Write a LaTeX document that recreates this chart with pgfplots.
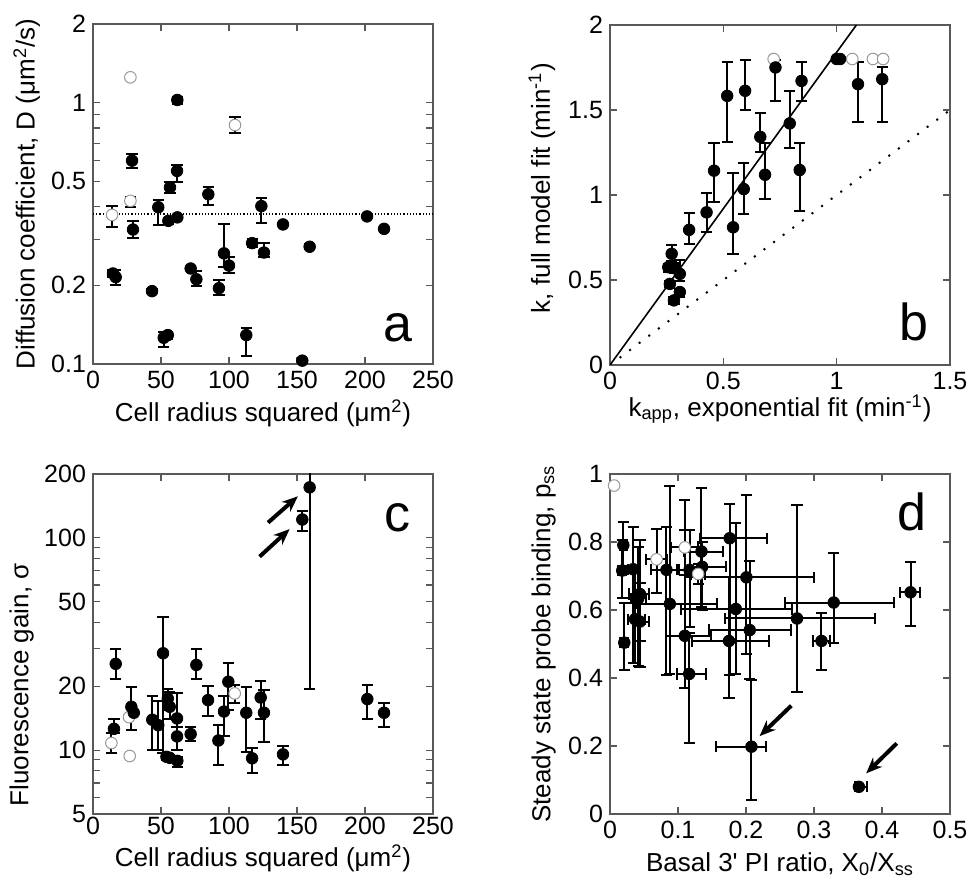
\documentclass[border=0pt]{standalone}
\usepackage{fontspec}
\setmainfont{Liberation Sans}
\usepackage{pgfplots}
\pgfplotsset{compat=1.18}
\usetikzlibrary{arrows.meta}

\pgfplotsset{
  panel/.style={
    scale only axis, width=170pt, height=170pt, anchor=south west,
    axis line style={black!65, line width=0.7pt},
    every tick/.style={black!65, line width=0.6pt},
    major tick length=3.5pt, minor tick length=0pt,
    tick align=inside,
    tick label style={font=\fontsize{12.5}{13}\selectfont},
    label style={font=\fontsize{13}{14}\selectfont},
    /pgf/number format/assume math mode=true,
  },
  ebars/.style={
    error bars/y dir=both, error bars/y explicit,
    error bars/error bar style={line width=1pt, black},
    error bars/error mark options={rotate=90, line width=1pt, mark size=2.8pt, black},
  },
  fpt/.style={only marks, mark=*, mark size=2.9pt,
    mark options={fill=black, draw=black}, ebars},
  opt/.style={only marks, mark=*, mark size=2.9pt,
    mark options={fill=white, draw=black!40, line width=0.5pt}, ebars},
}
\tikzset{
  letter/.style={font=\fontsize{26}{28}\selectfont, anchor=base},
  arr/.style={-{Stealth[length=8pt,width=6.5pt]}, line width=2pt},
}

\begin{document}
\begin{tikzpicture}
\useasboundingbox (0,0) rectangle (486pt,441pt);

% ---------- a ----------
\begin{axis}[panel, at={(46.5pt,259pt)},
  xmin=0, xmax=250, xtick={0,50,100,150,200,250},
  ymode=log, ymin=0.1, ymax=2,
  ytick={0.1,0.2,0.3,0.4,0.5,0.6,0.7,0.8,0.9,1,2},
  yticklabels={0.1,0.2,{},{},0.5,{},{},{},{},1,2},
  xlabel={Cell radius squared (μm\textsuperscript{2})},
  ylabel={Diffusion coefficient, D (μm\textsuperscript{2}/s)},
  xlabel style={at={(axis description cs:0.5,-0.145)}, anchor=center},
  ylabel style={at={(axis description cs:-0.195,0.5)}, anchor=center},
]
\addplot[black, densely dotted, line width=0.6pt] coordinates {(0,0.375) (250,0.375)};
\addplot[opt] table[x=x, y=y, y error plus=ep, y error minus=em] {
x y ep em
14.0 0.372 0.032 0.037
27.5 1.25 0 0
27.5 0.421 0.016 0.023
104.4 0.821 0.063 0.058
};
\addplot[fpt] table[x=x, y=y, y error plus=ep, y error minus=em] {
x y ep em
14.7 0.222 0.006 0.006
16.7 0.215 0.014 0.015
28.7 0.600 0.036 0.039
29.4 0.327 0.024 0.023
43.4 0.190 0.003 0.003
48.0 0.398 0.026 0.058
52.0 0.126 0.007 0.010
55.0 0.129 0.004 0.004
56.6 0.474 0.025 0.024
55.4 0.353 0.009 0.009
62.0 1.024 0.030 0.034
61.8 0.548 0.030 0.049
62.0 0.364 0.006 0.006
71.8 0.232 0.004 0.004
76.0 0.211 0.015 0.012
84.8 0.446 0.031 0.040
92.6 0.195 0.015 0.011
96.3 0.265 0.077 0.029
100.0 0.238 0.018 0.016
112.7 0.129 0.008 0.022
117.0 0.290 0.010 0.009
123.8 0.402 0.028 0.055
125.7 0.267 0.023 0.010
139.7 0.342 0 0
153.9 0.103 0 0
159.3 0.281 0.006 0.006
201.5 0.367 0 0
214.0 0.329 0 0
};
\node[letter] at (rel axis cs:0.897,0.065) {a};
\end{axis}

% ---------- b ----------
\begin{axis}[panel, at={(305pt,258.5pt)},
  xmin=0, xmax=1.5, xtick={0,0.5,1,1.5},
  ymin=0, ymax=2, ytick={0,0.5,1,1.5,2},
  xlabel={k\textsubscript{app}, exponential fit (min\textsuperscript{-1})},
  ylabel={k, full model fit (min\textsuperscript{-1})},
  xlabel style={at={(axis description cs:0.5,-0.13)}, anchor=center},
  ylabel style={at={(axis description cs:-0.2,0.52)}, anchor=center},
]
\addplot[black, line width=0.8pt] coordinates {(0,0) (1.087,2)};
\addplot[black, line width=1pt, dash pattern=on 1pt off 5pt] coordinates {(0,0) (1.5,1.5)};
\addplot[opt] table[x=x, y=y, y error plus=ep, y error minus=em] {
x y ep em
0.722 1.80 0 0
1.069 1.80 0 0
1.160 1.80 0 0
1.205 1.80 0 0
};
\addplot[fpt] table[x=x, y=y, y error plus=ep, y error minus=em] {
x y ep em
1.000 1.800 0 0
1.015 1.800 0 0
0.517 1.583 0.202 0.274
0.596 1.613 0.180 0.114
0.730 1.750 0.043 0.196
0.845 1.671 0.114 0.117
1.094 1.652 0.133 0.225
1.201 1.681 0.069 0.254
0.793 1.421 0.188 0.147
0.663 1.342 0.143 0.092
0.684 1.119 0.186 0.142
0.837 1.147 0.158 0.239
0.459 1.143 0.162 0.186
0.590 1.035 0.153 0.147
0.543 0.810 0.317 0.160
0.426 0.898 0.112 0.117
0.349 0.795 0.097 0.083
0.272 0.654 0.049 0.040
0.257 0.575 0.020 0.030
0.283 0.570 0.030 0.030
0.308 0.536 0.080 0.040
0.264 0.477 0.020 0.020
0.308 0.429 0.020 0.030
0.282 0.380 0.020 0.020
};
\node[letter] at (rel axis cs:0.894,0.073) {b};
\end{axis}

% ---------- c ----------
\begin{axis}[panel, at={(46.5pt,34pt)},
  xmin=0, xmax=250, xtick={0,50,100,150,200,250},
  ymode=log, ymin=5, ymax=200,
  ytick={5,6,7,8,9,10,20,30,40,50,60,70,80,90,100,200},
  yticklabels={5,{},{},{},{},10,20,{},{},50,{},{},{},{},100,200},
  xticklabel style={yshift=2pt},
  xlabel={Cell radius squared (μm\textsuperscript{2})},
  ylabel={Fluorescence gain, σ},
  xlabel style={at={(axis description cs:0.5,-0.13)}, anchor=center},
  ylabel style={at={(axis description cs:-0.21,0.38)}, anchor=center},
]
\addplot[opt] table[x=x, y=y, y error plus=ep, y error minus=em] {
x y ep em
13.5 10.8 1.2 1.1
27.0 9.38 0 0
26.5 14.3 0 0
104.2 18.5 1.8 1.9
};
\addplot[fpt] table[x=x, y=y, y error plus=ep, y error minus=em] {
x y ep em
15.4 12.6 1.4 0.6
16.7 25.5 4.4 3.9
28.2 16.0 3.9 3.6
30.0 15.0 0 0
43.6 13.9 4.0 3.9
48.0 13.1 3.9 3.1
51.5 28.6 13.9 18.9
54.0 9.3 0.3 0.3
56.4 9.2 0.3 0.3
55.0 17.5 2.0 2.0
56.4 16.0 2.7 2.0
61.8 14.1 4.5 4.1
61.8 11.6 1.3 1.6
62.0 8.9 0.4 0.6
71.8 11.9 0.9 0.9
76.0 25.2 4.7 3.6
84.6 17.2 2.9 2.7
92.2 11.1 2.0 2.6
96.3 15.2 2.7 3.6
99.5 21.0 4.7 5.5
112.7 15.0 4.9 5.2
117.0 9.15 1.05 1.35
123.3 17.7 3.5 3.7
125.7 15.0 4.3 4.1
139.7 9.55 0.85 1.05
153.9 122 12 14
159.3 173 40 153.5
201.7 17.4 2.9 3.4
214.0 15.0 1.6 2.2
};
\draw[arr] (axis cs:128.7,118) -- (axis cs:150.7,157);
\draw[arr] (axis cs:122.5,81.6) -- (axis cs:144.6,110);
\node[letter] at (rel axis cs:0.897,0.83) {c};
\end{axis}

% ---------- d ----------
\begin{axis}[panel, at={(305pt,34pt)},
  xmin=0, xmax=0.5, xtick={0,0.1,0.2,0.3,0.4,0.5},
  ymin=0, ymax=1, ytick={0,0.2,0.4,0.6,0.8,1},
  xlabel={Basal 3\textquotesingle{} PI ratio, X\textsubscript{0}/X\textsubscript{ss}},
  ylabel={Steady state probe binding, p\textsubscript{ss}},
  xlabel style={at={(axis description cs:0.5,-0.148)}, anchor=center},
  ylabel style={at={(axis description cs:-0.195,0.5)}, anchor=center},
]
\addplot[fpt, error bars/x dir=both, error bars/x explicit]
  table[x=x, y=y, x error plus=xp, x error minus=xm, y error plus=yp, y error minus=ym] {
x y xp xm yp ym
0.0196 0.791 0.006 0.005 0.067 0.070
0.018 0.716 0.006 0.006 0.090 0.080
0.021 0.504 0.006 0.006 0.116 0.080
0.034 0.720 0.008 0.008 0.123 0.277
0.0416 0.634 0.012 0.010 0.152 0.200
0.044 0.647 0.014 0.016 0.160 0.137
0.0367 0.573 0.015 0.010 0.140 0.130
0.044 0.566 0.014 0.010 0.112 0.133
0.083 0.718 0.015 0.022 0.127 0.308
0.088 0.618 0.070 0.050 0.347 0.207
0.110 0.524 0.039 0.028 0.400 0.154
0.1164 0.412 0.025 0.018 0.119 0.202
0.117 0.718 0.020 0.015 0.117 0.168
0.1345 0.772 0.032 0.026 0.188 0.162
0.1355 0.727 0.035 0.018 0.073 0.127
0.176 0.811 0.055 0.044 0.101 0.402
0.2006 0.696 0.100 0.090 0.243 0.226
0.185 0.603 0.082 0.080 0.252 0.192
0.2055 0.541 0.060 0.060 0.203 0.145
0.175 0.509 0.059 0.055 0.189 0.169
0.275 0.575 0.114 0.106 0.334 0.215
0.329 0.622 0.089 0.071 0.147 0.120
0.311 0.509 0.012 0.013 0.081 0.085
0.442 0.652 0.014 0.016 0.090 0.099
0.208 0.198 0.021 0.052 0.196 0.157
0.366 0.080 0.012 0.006 0 0
};
\addplot[opt, error bars/x dir=both, error bars/x explicit]
  table[x=x, y=y, x error plus=xp, x error minus=xm, y error plus=yp, y error minus=ym] {
x y xp xm yp ym
0.006 0.966 0 0 0 0
0.0685 0.749 0.015 0.015 0.090 0.100
0.110 0.784 0.020 0.020 0.050 0.080
0.1296 0.706 0.010 0.010 0.030 0.030
};
\draw[arr] (axis cs:0.2666,0.3186) -- (axis cs:0.220,0.229);
\draw[arr] (axis cs:0.4217,0.2078) -- (axis cs:0.3767,0.1196);
\node[letter] at (rel axis cs:0.889,0.833) {d};
\end{axis}
\end{tikzpicture}
\end{document}
